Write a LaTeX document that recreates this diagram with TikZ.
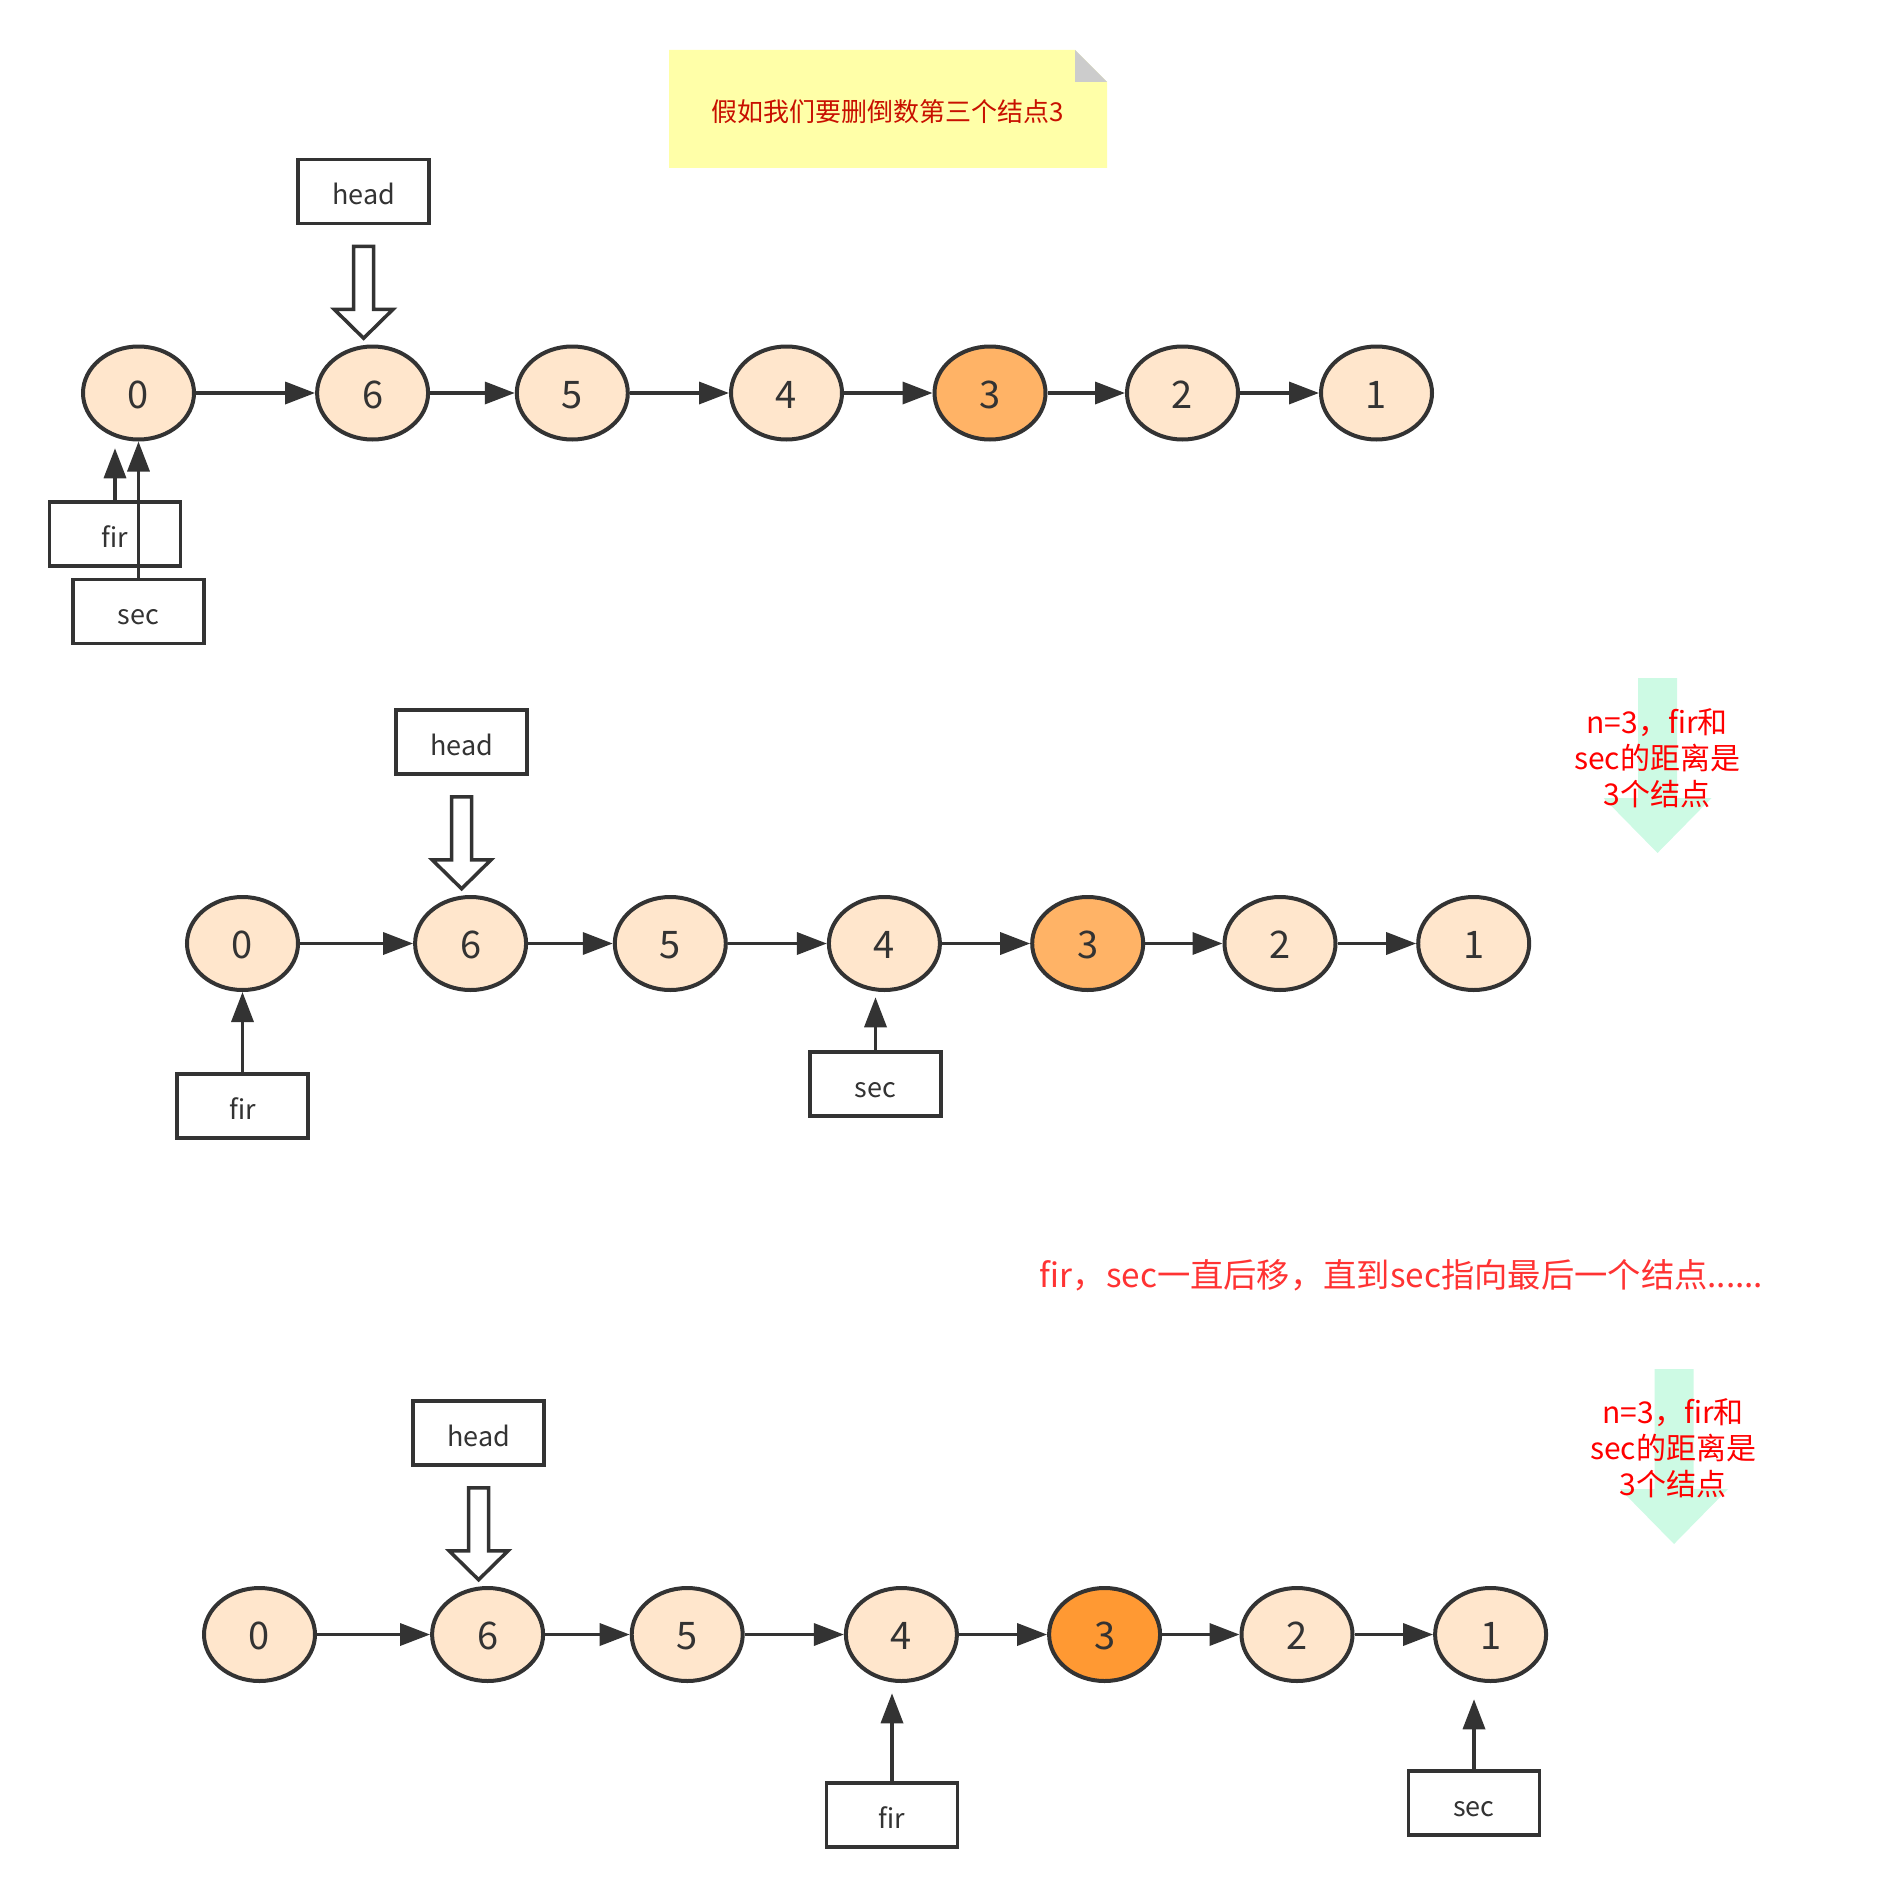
\documentclass[tikz,border=0pt]{standalone}
\usepackage{fontspec}
\newfontfamily\cjk{Noto Sans CJK SC}
\usetikzlibrary{shapes.geometric,arrows.meta,calc}
\definecolor{dk}{RGB}{51,51,51}
\definecolor{lightor}{RGB}{255,230,204}
\definecolor{midor}{RGB}{255,179,102}
\definecolor{deepor}{RGB}{255,153,51}
\definecolor{notebg}{RGB}{255,255,168}
\definecolor{foldgray}{RGB}{204,204,204}
\definecolor{notered}{RGB}{200,16,0}
\definecolor{redA}{RGB}{255,0,0}
\definecolor{redB}{RGB}{255,51,51}
\definecolor{mint}{RGB}{205,250,228}
\tikzset{
  lnode/.style={ellipse, draw=dk, line width=4pt, fill=lightor, minimum width=111pt, minimum height=93pt, inner sep=0pt, text=dk, text height=30pt, text depth=0pt, font=\cjk\fontsize{38}{38}\selectfont},
  tnode/.style={lnode, fill=midor},
  dnode/.style={lnode, fill=deepor},
  lbox/.style={rectangle, draw=dk, line width=3.5pt, fill=white, minimum width=131pt, minimum height=64pt, inner sep=0pt, text=dk, text height=26pt, text depth=0pt, font=\cjk\fontsize{27}{27}\selectfont},
  ptr/.style={draw=dk, line width=3.5pt, -{Triangle[length=30pt,width=22pt]}},
  hollow/.style={draw=dk, line width=3.5pt, fill=white, line join=miter},
  redtxt/.style={text=redA, align=center, font=\cjk\fontsize{30}{36}\selectfont},
}
\newcommand\myhollow[1]{\draw[hollow] ($(#1.south)+(-10,21)$) -- ++(0,63) -- ++(-19.5,0) -- ++(29.5,29) -- ++(29.5,-29) -- ++(-19.5,0) -- ++(0,-63) -- cycle;}
\newcommand\mygreen[2]{\begin{scope}[shift={(#1,#2)}]
  \fill[mint] (-19.5,0) -- (19.5,0) -- (19.5,120) -- (54,120) -- (0,175) -- (-54,120) -- (-19.5,120) -- cycle;
\end{scope}}
\begin{document}
\begin{tikzpicture}[x=1pt,y=-1pt]
\useasboundingbox (0,0) rectangle (1879,1897);
% note
\fill[notebg] (669,50) -- (1075,50) -- (1107,82) -- (1107,168) -- (669,168) -- cycle;
\fill[foldgray] (1075,50) -- (1075,82) -- (1107,82) -- cycle;
\node[text=notered, font=\cjk\fontsize{26}{26}\selectfont] (note) at (887.5,112) {假如我们要删倒数第三个结点3};

% ---------- row 1 ----------
\node[lnode] (a0) at (138.5,393) {0};
\node[lnode] (a6) at (372.6,393) {6};
\node[lnode] (a5) at (572.3,393) {5};
\node[lnode] (a4) at (786.5,393) {4};
\node[tnode] (a3) at (990,393) {3};
\node[lnode] (a2) at (1182.5,393) {2};
\node[lnode] (a1) at (1376.5,393) {1};
\draw[ptr] (a0) -- (a6);
\draw[ptr] (a6) -- (a5);
\draw[ptr] (a5) -- (a4);
\draw[ptr] (a4) -- (a3);
\draw[ptr] (a3) -- (a2);
\draw[ptr] (a2) -- (a1);
\node[lbox] (ha) at (363.6,191.5) {head};
\myhollow{ha}
\node[lbox] (fa) at (115,534) {fir};
\node[lbox] (sa) at (138.5,611.5) {sec};
\draw[ptr] (fa.north) -- ++(0,-52);
\draw[ptr] (sa.north) -- (a0.south);

% ---------- row 2 ----------
\node[lnode] (b0) at (242.5,943.5) {0};
\node[lnode] (b6) at (470.6,943.5) {6};
\node[lnode] (b5) at (670.3,943.5) {5};
\node[lnode] (b4) at (884.4,943.5) {4};
\node[tnode] (b3) at (1087.7,943.5) {3};
\node[lnode] (b2) at (1280,943.5) {2};
\node[lnode] (b1) at (1473.7,943.5) {1};
\draw[ptr] (b0) -- (b6);
\draw[ptr] (b6) -- (b5);
\draw[ptr] (b5) -- (b4);
\draw[ptr] (b4) -- (b3);
\draw[ptr] (b3) -- (b2);
\draw[ptr] (b2) -- (b1);
\node[lbox] (hb) at (461.6,742) {head};
\myhollow{hb}
\node[lbox] (fb) at (242.5,1106) {fir};
\node[lbox] (sb) at (875.5,1084) {sec};
\draw[ptr] (fb.north) -- (b0.south);
\draw[ptr] (sb.north) -- ++(0,-53);
\mygreen{1657.5}{678}
\node[redtxt] (tb) at (1657,758) {n=3，fir和\\sec的距离是\\3个结点};

% middle text
\node[text=redB, font=\cjk\fontsize{33.3}{33.3}\selectfont] (mid) at (1401.5,1275) {fir，sec一直后移，直到sec指向最后一个结点......};

% ---------- row 3 ----------
\node[lnode] (c0) at (259.5,1634.5) {0};
\node[lnode] (c6) at (487.6,1634.5) {6};
\node[lnode] (c5) at (687.2,1634.5) {5};
\node[lnode] (c4) at (901.4,1634.5) {4};
\node[dnode] (c3) at (1104.6,1634.5) {3};
\node[lnode] (c2) at (1297,1634.5) {2};
\node[lnode] (c1) at (1490.6,1634.5) {1};
\draw[ptr] (c0) -- (c6);
\draw[ptr] (c6) -- (c5);
\draw[ptr] (c5) -- (c4);
\draw[ptr] (c4) -- (c3);
\draw[ptr] (c3) -- (c2);
\draw[ptr] (c2) -- (c1);
\node[lbox] (hc) at (478.6,1433) {head};
\myhollow{hc}
\node[lbox] (fc) at (892,1815) {fir};
\node[lbox] (sc) at (1474,1803) {sec};
\draw[ptr] (fc.north) -- ++(0,-88);
\draw[ptr] (sc.north) -- ++(0,-70);
\mygreen{1674}{1369}
\node[redtxt] (tc) at (1673,1448) {n=3，fir和\\sec的距离是\\3个结点};
\end{tikzpicture}
\end{document}
